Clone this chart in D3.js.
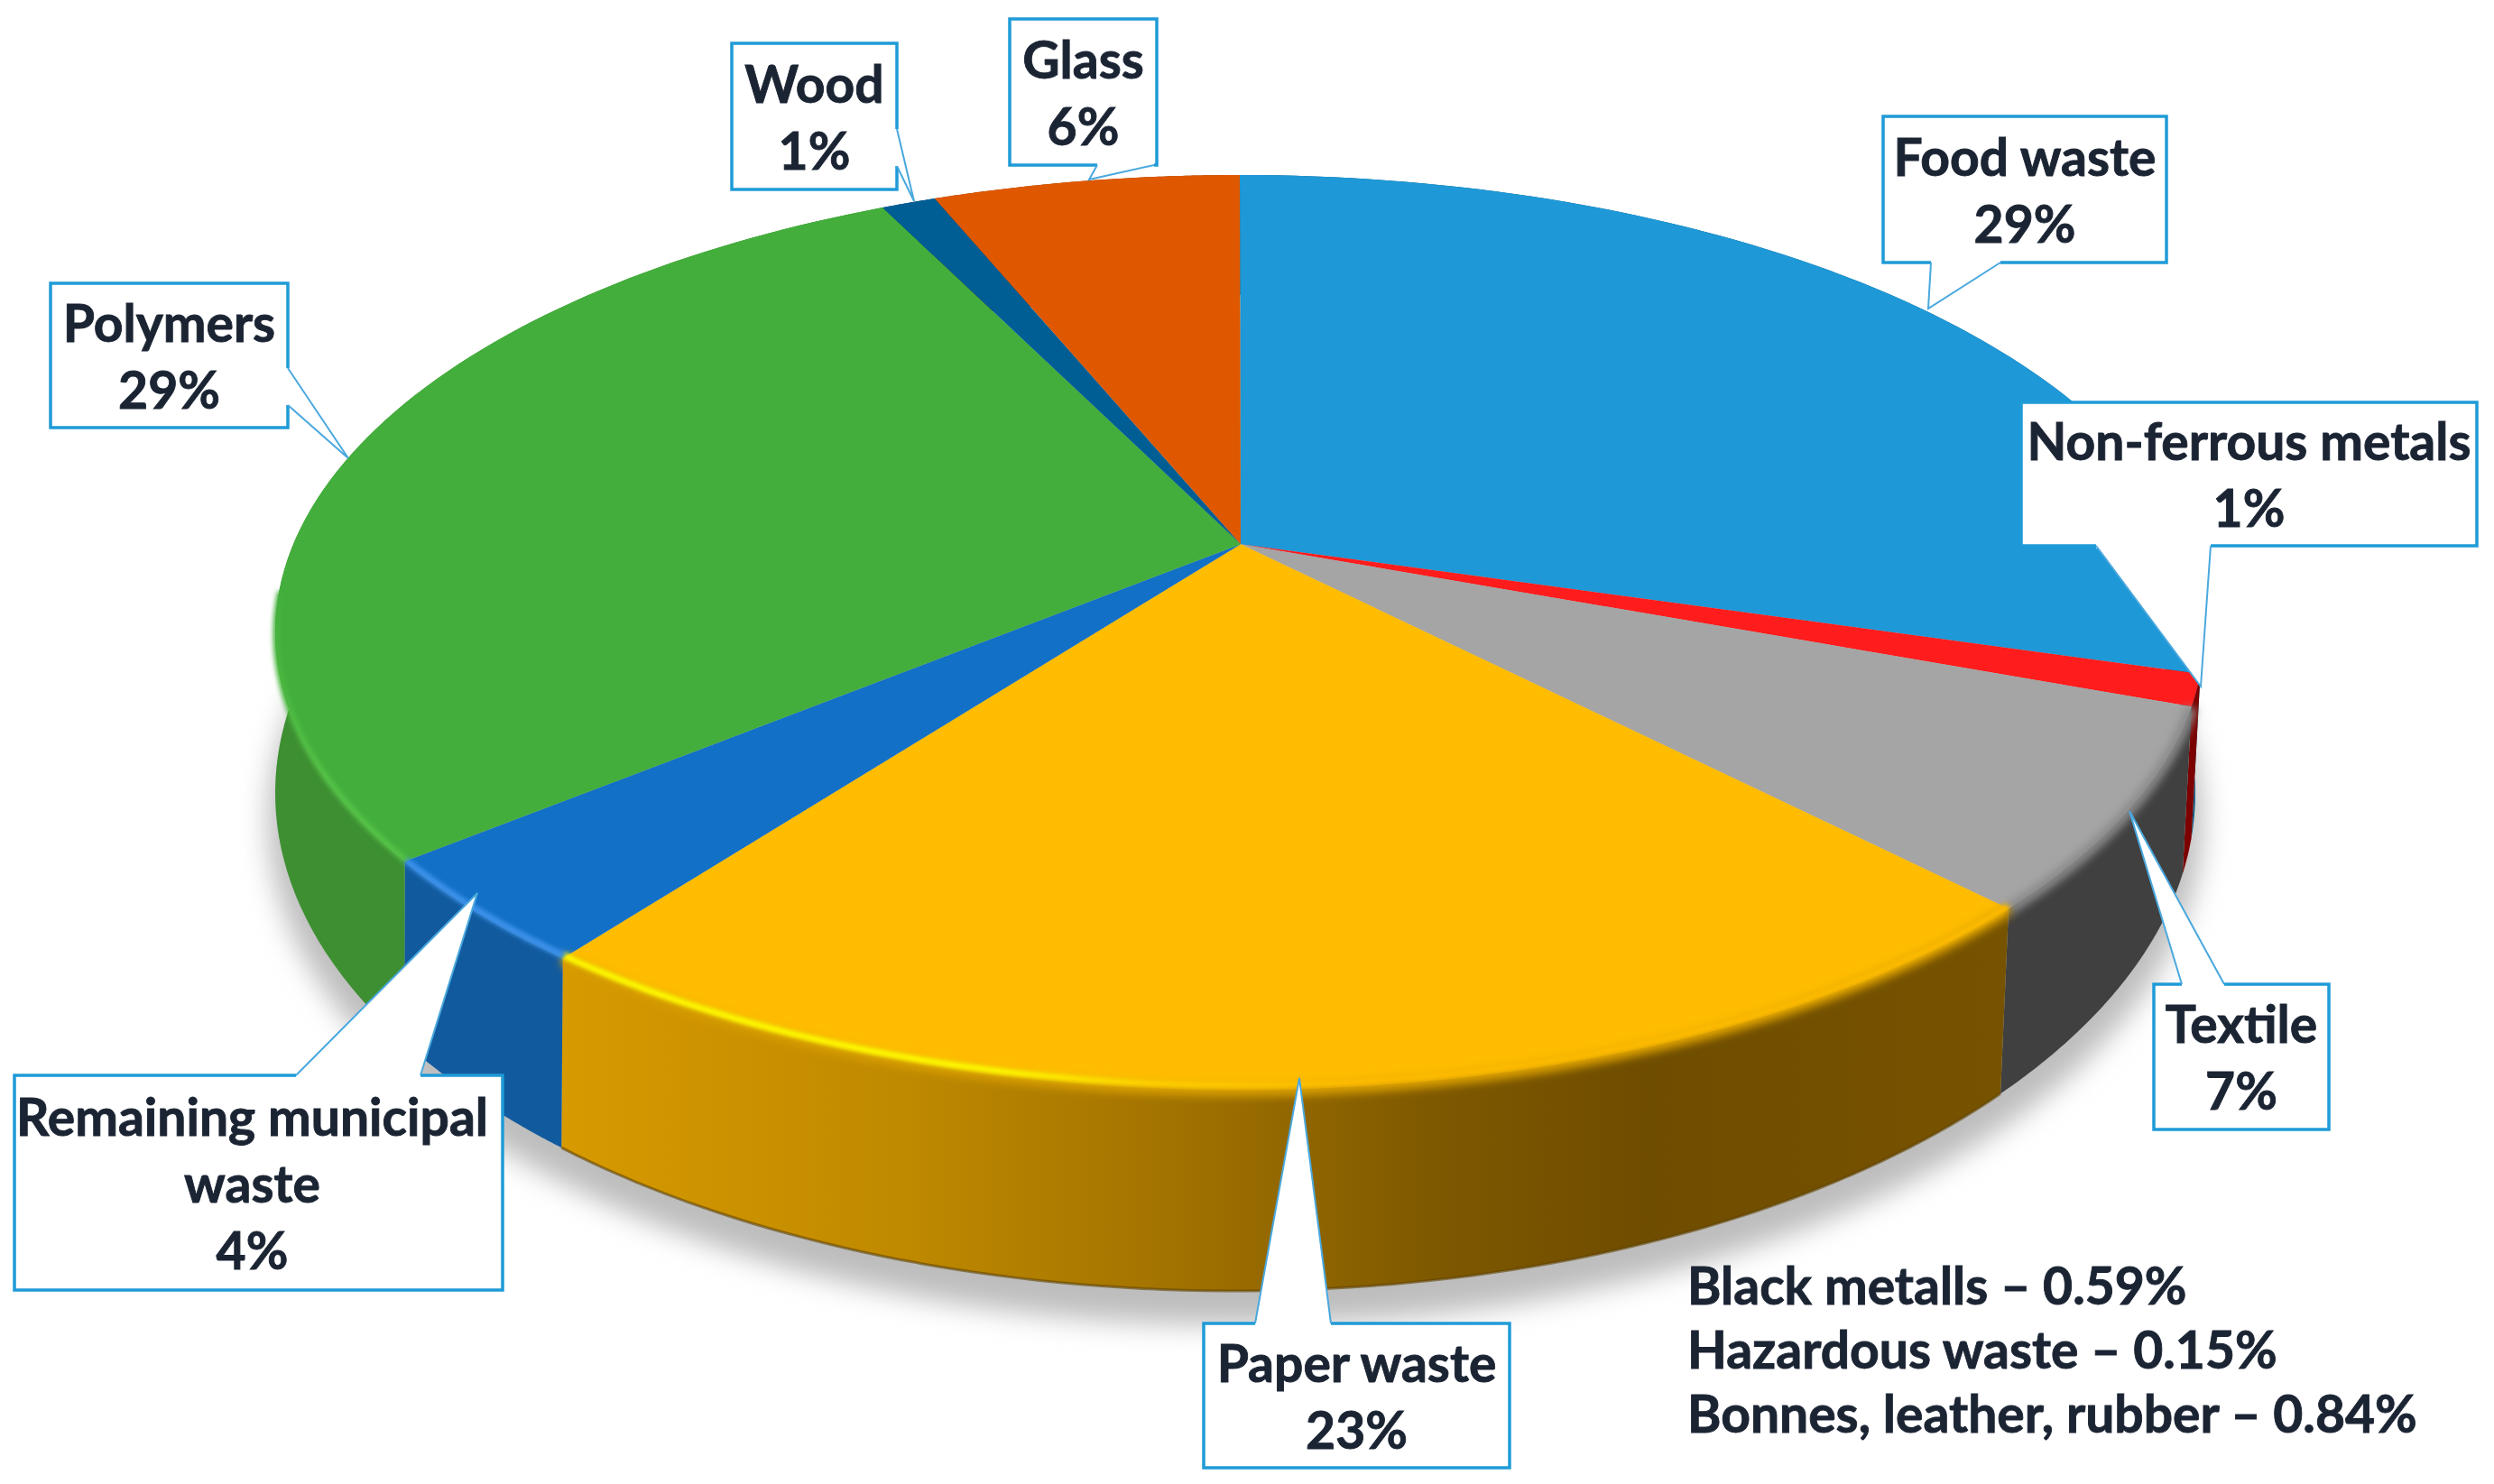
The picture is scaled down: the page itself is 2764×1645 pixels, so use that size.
<!DOCTYPE html>
<html><head><meta charset="utf-8">
<script src="https://cdn.jsdelivr.net/npm/d3@7"></script>
<style>html,body{margin:0;background:#fff}svg{display:block}text{font-family:Lato,"Open Sans",sans-serif;font-weight:700;fill:#1b2433;stroke:#1b2433;stroke-width:.9px}</style>
</head><body><svg id="c" width="2764" height="1645"></svg>
<script>
// ---- data
const categories=["Food waste","Non-ferrous metals","Textile","Paper waste","Remaining municipal waste","Polymers","Wood","Glass"];
const shares=[29.5,1.1,7.05,22.7,3.75,28.6,1.1,6.2];
const percentLabels=["29%","1%","7%","23%","4%","29%","1%","6%"];
const notes=["Black metalls – 0.59%","Hazardous waste – 0.15%","Bonnes, leather, rubber – 0.84%"];
const topColors=["#1e98d6","#ff1c1c","#a5a5a5","#ffbc00","#1270c6","#43ae3c","#005e95","#df5800"];
const wallColors=["#0d5a82","#7c0000","#404040","#d79a00","#115a9e","#3d8f32","#003a5c","#8a3600"];
const rimColors=["#1e98d6","#ff1c1c","#8f8f8f","#ffff00","#3f94ec","url(#greenRim)","#005e95","#df5800"];
// ---- layout
const W=2764,H=1645;
const topE={cx:1374,cy:701,rx:1069,ry:507}, botE={cx:1369,cy:879,rx:1064,ry:552}, skew=-0.193;
const calloutLayout=[
 {box:[2087,129,2401,291],ptr:[[2140,291],[2137,342],[2217,291]]},
 {box:[2240,446,2745,605],ptr:[[2323,605],[2439,761],[2450,605]]},
 {box:[2387,1091,2581,1252],ptr:[[2418,1091],[2360,899],[2465,1091]]},
 {box:[1334,1467,1673,1627],ptr:[[1391,1467],[1440,1195],[1475,1467]]},
 {box:[16,1192,557,1430],ptr:[[328,1192],[529,990],[466,1192]],lines:["Remaining municipal","waste"],dx:-7},
 {box:[56,314,319,474],ptr:[[319,408],[386,508],[319,449]]},
 {box:[811,48,994,210],ptr:[[994,143],[1013,223],[994,184]]},
 {box:[1119,21,1282,183],ptr:[[1216,183],[1207,199],[1279,183]]}
];
const svg=d3.select("#c"), defs=svg.append("defs");
const blur=(id,s)=>defs.append("filter").attr("id",id).attr("x","-20%").attr("y","-20%").attr("width","140%").attr("height","140%").append("feGaussianBlur").attr("stdDeviation",s);
blur("sh",15);blur("rim",2.6);blur("rimSoft",5);

const arcs=d3.pie().sort(null).value(d=>d)(shares);
function project(e,a){const u=Math.sin(a),v=-Math.cos(a),d=1+skew*v;
  return [e.cx+e.rx*u*Math.sqrt(1-skew*skew)/d, e.cy+e.ry*(v+skew)/d];}
const samples=(a)=>d3.range(0,81).map(i=>a.startAngle+(a.endAngle-a.startAngle)*i/80);
const line=d3.line();
const lineClosed=d3.line().curve(d3.curveLinearClosed);

// shadow
svg.append("ellipse").attr("cx",botE.cx).attr("cy",botE.cy+30).attr("rx",botE.rx+8).attr("ry",botE.ry+8)
   .attr("fill","#bdbdbd").attr("filter","url(#sh)");

// gradients
const paperGrad=defs.append("linearGradient").attr("id","paperWall").attr("gradientUnits","userSpaceOnUse")
  .attr("x1",620).attr("x2",2225).attr("y1",0).attr("y2",0);
[[0,"#d79a00"],[.24,"#bf8900"],[.42,"#a27300"],[.6,"#7f5900"],[.75,"#6f4d00"],[1,"#775300"]]
  .forEach(s=>paperGrad.append("stop").attr("offset",s[0]).attr("stop-color",s[1]));
const rimGrad=defs.append("linearGradient").attr("id","paperRim").attr("gradientUnits","userSpaceOnUse")
  .attr("x1",620).attr("x2",2225).attr("y1",0).attr("y2",0);
[[0,"#ffff00"],[.3,"#ffff00"],[.42,"#ffd000"],[.55,"#ffbc00"],[1,"#ffbc00"]]
  .forEach(s=>rimGrad.append("stop").attr("offset",s[0]).attr("stop-color",s[1]));
const greenGrad=defs.append("linearGradient").attr("id","greenRim").attr("gradientUnits","userSpaceOnUse")
  .attr("x1",0).attr("x2",0).attr("y1",640).attr("y2",860);
[[0,"#43ae3c"],[1,"#54c246"]].forEach(s=>greenGrad.append("stop").attr("offset",s[0]).attr("stop-color",s[1]));

// walls
svg.append("g").selectAll("path").data(arcs).join("path")
  .attr("d",a=>{const s=samples(a);return lineClosed(s.map(t=>project(topE,t)).concat(s.slice().reverse().map(t=>project(botE,t))));})
  .attr("fill",(a,i)=>i===3?"url(#paperWall)":wallColors[i]);
// dark lower edge of the paper wall
svg.append("path").attr("d",line(samples(arcs[3]).map(t=>project(botE,t)))).attr("fill","none")
  .attr("stroke","#5f4200").attr("stroke-width",3).attr("stroke-opacity",.6);

// top faces
svg.append("g").selectAll("path").data(arcs).join("path")
  .attr("d",a=>lineClosed([[topE.cx+1,topE.cy+topE.ry*skew]].concat(samples(a).map(t=>project(topE,t)))))
  .attr("fill",(a,i)=>topColors[i]);

// bevel highlight along the front rim
const inset={cx:topE.cx,cy:topE.cy+2,rx:topE.rx-1,ry:topE.ry-7};
const rimG=svg.append("g");
rimG.selectAll("path.soft").data(arcs.filter((a,i)=>i>=2&&i<=3)).join("path").attr("class","soft")
  .attr("d",a=>line(samples(a).map(t=>project({...topE,cy:topE.cy+1},t))))
  .attr("fill","none").attr("stroke",(a,i)=>i===0?"#8a8a8a":"#d69c00").attr("stroke-width",13).attr("filter","url(#rimSoft)");
rimG.selectAll("path.hi").data(arcs.filter((a,i)=>i>=3&&i<=5)).join("path").attr("class","hi")
  .attr("d",a=>line(samples(a).map(t=>project(inset,t)).filter(p=>p[1]>topE.cy-50)))
  .attr("fill","none").attr("stroke",(a)=>a.index===3?"url(#paperRim)":rimColors[a.index]).attr("stroke-width",7)
  .attr("filter","url(#rim)");

// callouts
const g=svg.append("g").selectAll("g").data(calloutLayout).join("g");
g.append("rect").attr("x",d=>d.box[0]).attr("y",d=>d.box[1]).attr("width",d=>d.box[2]-d.box[0]).attr("height",d=>d.box[3]-d.box[1])
  .attr("fill","#fff").attr("stroke","#1f9bd7").attr("stroke-width",3.5);
g.append("path").attr("d",d=>lineClosed(d.ptr)).attr("fill","#fff").attr("stroke","none");
g.append("path").attr("d",d=>line([d.ptr[0],d.ptr[2]])).attr("stroke","#fff").attr("stroke-width",6);
g.append("path").attr("d",d=>line(d.ptr)).attr("fill","none").attr("stroke","#4aa8de").attr("stroke-width",2);
const LH=74, FS=57;
g.each(function(d,i){
  const lines=(d.lines||[categories[i]]).concat(percentLabels[i]);
  const cx=(d.box[0]+d.box[2])/2+(d.dx||0), cy=(d.box[1]+d.box[3])/2;
  d3.select(this).selectAll("text").data(lines).join("text")
    .attr("x",cx).attr("y",(l,j)=>cy+(j-(lines.length-1)/2)*LH+FS*0.33+3)
    .attr("text-anchor","middle").attr("font-size",FS).text(l=>l);
});
// side notes
svg.append("g").selectAll("text").data(notes).join("text")
  .attr("x",1870).attr("y",(d,i)=>1446+i*71).attr("font-size",FS).text(d=>d);
</script></body></html>
